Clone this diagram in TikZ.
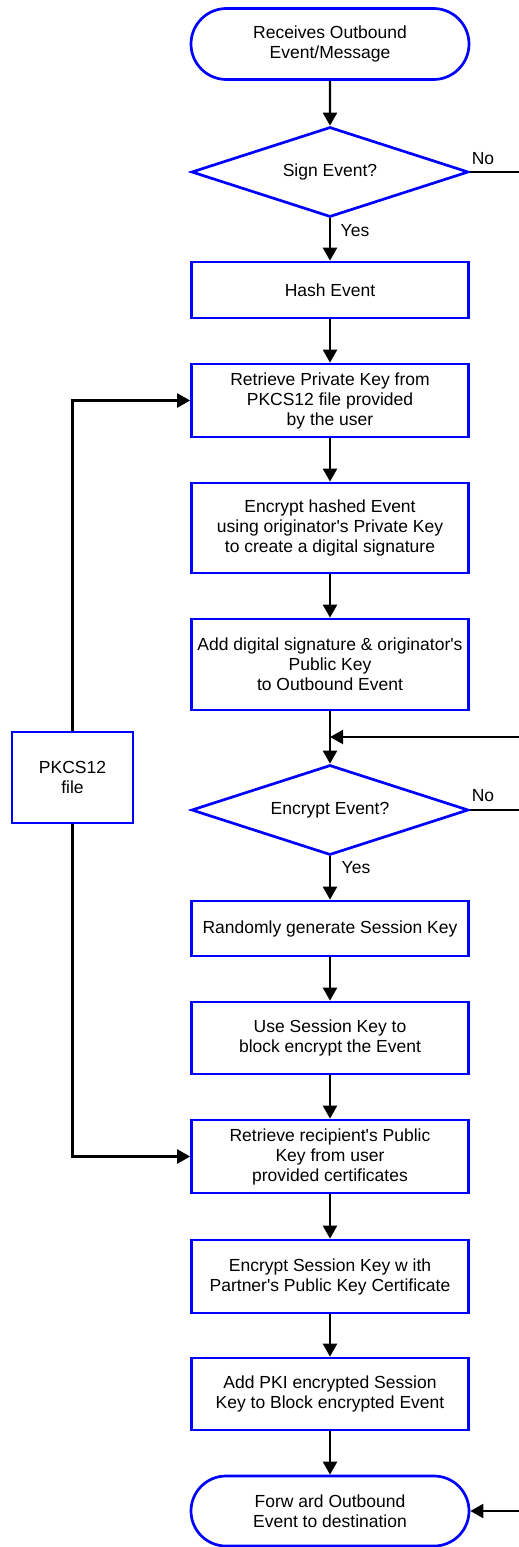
\documentclass[tikz,border=0pt]{standalone}
\usepackage{fontspec}
\setmainfont{Liberation Sans}[Ligatures=TeXOff]
\usetikzlibrary{shapes.geometric,shapes.misc,arrows.meta}

\definecolor{edgeblue}{RGB}{0,0,255}

\tikzset{
  txt/.style={font=\fontsize{17.5}{20}\selectfont, align=center, text=black},
  proc/.style={txt, draw=edgeblue, fill=white, line width=2.7pt, rectangle,
               minimum width=277pt, inner sep=0pt},
  term/.style={txt, draw=edgeblue, fill=white, line width=2.7pt, rounded rectangle,
               minimum width=278pt, minimum height=71pt, inner sep=0pt},
  decide/.style={txt, draw=edgeblue, fill=white, line width=2.7pt, diamond, aspect=3,
                 minimum width=277pt, minimum height=90pt, inner sep=0pt},
  flow/.style={draw=black, line width=2.2pt},
  arr/.style={flow, -{Triangle[length=13pt,width=14pt]}},
  lbl/.style={font=\fontsize{17.5}{20}\selectfont, text=black, inner sep=0pt}
}

\begin{document}
\begin{tikzpicture}[x=1pt,y=-1pt]
\useasboundingbox (0,0) rectangle (519,1547);
\clip (0,0) rectangle (519,1547);
\fill[white] (0,0) rectangle (519,1547);

% main column
\node[term] (start) at (330,44) {Receives Outbound\\Event/Message};
\node[decide] (sign) at (330,172) {Sign Event?};
\node[proc, minimum height=56pt] (hash) at (330,290) {Hash Event};
\node[proc, minimum height=73pt] (priv) at (330,400.5) {Retrieve Private Key from\\PKCS12 file provided\\by the user};
\node[proc, minimum height=90pt] (encsig) at (330,528) {Encrypt hashed Event\\ using originator's Private Key\\to create a digital signature};
\node[proc, minimum height=91pt] (addsig) at (330,664.5) {Add digital signature \& originator's\\Public Key\\ to Outbound Event};
\coordinate (merge) at (330,737);
\node[decide] (encq) at (330,810) {Encrypt Event?};
\node[proc, minimum height=55pt] (rand) at (330,928.5) {Randomly generate Session Key};
\node[proc, minimum height=72pt] (blk) at (330,1038) {Use Session Key to\\block encrypt the Event};
\node[proc, minimum height=73pt] (recip) at (330,1156.5) {Retrieve recipient's Public\\Key from user\\provided certificates};
\node[proc, minimum height=73pt] (enckey) at (330,1276.5) {Encrypt Session Key w ith\\Partner's Public Key Certificate};
\node[proc, minimum height=72pt] (addpki) at (330,1394) {Add PKI encrypted Session\\Key to Block encrypted Event};
\node[term, minimum height=70pt] (fwd) at (330,1511) {Forw ard Outbound\\Event to destination};

% key store on the left
\node[proc, minimum width=121pt, minimum height=91pt] (pkcs) at (72.5,777.5) {PKCS12\\file};

% bypass routes along the right edge
\coordinate (r1) at (535,172);
\coordinate (r2) at (535,737);
\coordinate (r3) at (535,810);
\coordinate (r4) at (535,1511);

% connectors
\draw[arr] (start) -- (sign);
\draw[arr] (sign) -- (hash);
\draw[arr] (hash) -- (priv);
\draw[arr] (priv) -- (encsig);
\draw[arr] (encsig) -- (addsig);
\draw[arr] (addsig) -- (encq);
\draw[arr] (sign.east) -- (r1) -- (r2) -- (merge);
\draw[arr] (encq) -- (rand);
\draw[arr] (rand) -- (blk);
\draw[arr] (blk) -- (recip);
\draw[arr] (recip) -- (enckey);
\draw[arr] (enckey) -- (addpki);
\draw[arr] (addpki) -- (fwd);
\draw[arr] (encq.east) -- (r3) -- (r4) -- (fwd.east);
\draw[arr] (pkcs.north) |- (priv.west);
\draw[arr] (pkcs.south) |- (recip.west);

% branch labels
\node[lbl] (yes1) at (355,231) {Yes};
\node[lbl] (no1) at (483,159) {No};
\node[lbl] (yes2) at (356,868) {Yes};
\node[lbl] (no2) at (483,796) {No};
\end{tikzpicture}
\end{document}
